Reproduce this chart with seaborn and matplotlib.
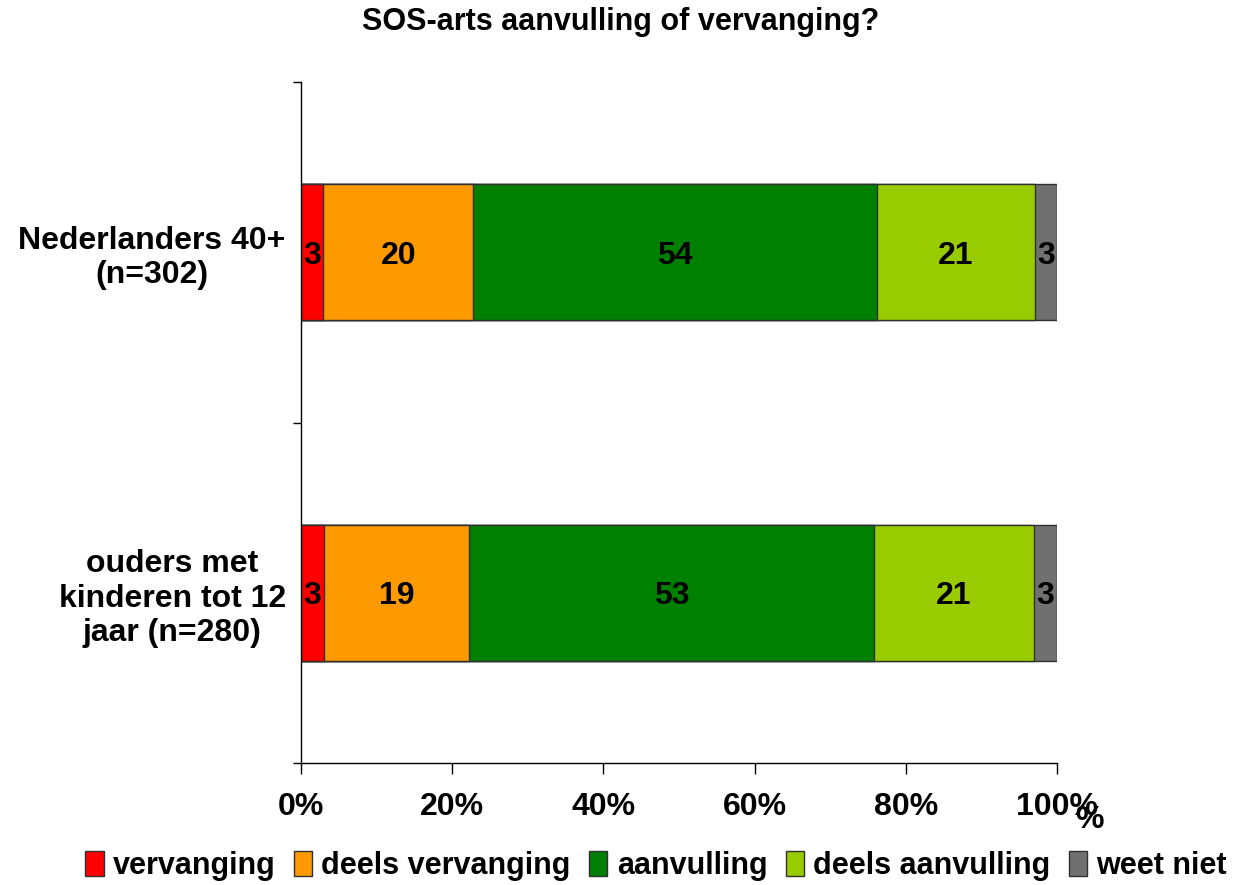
import matplotlib
matplotlib.use("Agg")
import matplotlib.pyplot as plt
import seaborn as sns
import pandas as pd
import numpy as np
from matplotlib.patches import Patch

sns.set_theme(style="white")
plt.rcParams['font.family'] = ['Liberation Sans', 'DejaVu Sans']
plt.rcParams['font.weight'] = 'bold'
plt.rcParams['text.color'] = 'black'
plt.rcParams['xtick.color'] = 'black'
plt.rcParams['ytick.color'] = 'black'
plt.rcParams['axes.labelcolor'] = 'black'

groups = ["Nederlanders 40+\n(n=302)", "ouders met\nkinderen tot 12\njaar (n=280)"]
series = ["vervanging", "deels vervanging", "aanvulling", "deels aanvulling", "weet niet"]
vervanging = [3, 3]
deels_vervanging = [20, 19]
aanvulling = [54, 53]
deels_aanvulling = [21, 21]
weet_niet = [3, 3]
colors = ["#FF0000", "#FF9900", "#008000", "#99CC00", "#707070"]
x_ticks = [0, 20, 40, 60, 80, 100]
x_ticklabels = ["0%", "20%", "40%", "60%", "80%", "100%"]

vals = np.array([vervanging, deels_vervanging, aanvulling, deels_aanvulling, weet_niet], dtype=float)
pct = vals / vals.sum(axis=0) * 100
cum = np.cumsum(pct, axis=0)

fig = plt.figure(figsize=(12.34, 8.85), dpi=100)
ax = fig.add_axes([301/1234, 1-763/885, (1057-301)/1234, (763-82)/885])

keys = [f"g{i}" for i in range(len(groups))]
for i in reversed(range(len(series))):
    df = pd.DataFrame({"group": keys, "cum": cum[i]})
    sns.barplot(data=df, x="cum", y="group", orient="h", color=colors[i], saturation=1,
                width=0.4, edgecolor="#303030", linewidth=1.0, ax=ax, order=keys)

for i in range(len(series)):
    for j in range(len(groups)):
        ax.text(cum[i, j] - pct[i, j] / 2, j, f"{int(vals[i, j])}", ha="center", va="center_baseline",
                fontsize=23, fontweight="bold", color="black")

ax.set_xlim(0, 100)
ax.set_ylim(1.5, -0.5)
ax.set_xlabel("")
ax.set_ylabel("")
ax.set_xticks(x_ticks)
ax.set_xticklabels(x_ticklabels, fontsize=23, fontweight="bold", color="black")
ax.set_yticks([0, 1])
ax.set_yticklabels(groups, fontsize=23, fontweight="bold", multialignment="center", color="black")
ax.set_yticks([-0.5, 0.5, 1.5], minor=True)
ax.tick_params(axis="y", which="major", length=0, pad=11)
ax.tick_params(axis="y", which="minor", length=6, width=1, color="black", direction="out", left=True)
ax.tick_params(axis="x", which="major", length=8, width=1, color="black", direction="out", bottom=True, pad=13)
for s in ["top", "right"]:
    ax.spines[s].set_visible(False)
for s in ["left", "bottom"]:
    ax.spines[s].set_color("black")
    ax.spines[s].set_linewidth(1)

fig.text(621/1234, 1-22/885, "SOS-arts aanvulling of vervanging?", ha="center", va="center",
         fontsize=22, fontweight="bold", color="black")
fig.text(1089/1234, 1-820/885, "%", ha="center", va="center", fontsize=23, fontweight="bold", color="black")

handles = [Patch(facecolor=c, edgecolor="#303030", linewidth=1) for c in colors]
fig.legend(handles, series, loc="center", bbox_to_anchor=(656/1234, 1-866/885), ncol=5,
           frameon=False, fontsize=22, handlelength=0.6, handleheight=0.9,
           handletextpad=0.3, columnspacing=0.6, borderaxespad=0, labelcolor="black")

fig.savefig("out.png", dpi=100)
